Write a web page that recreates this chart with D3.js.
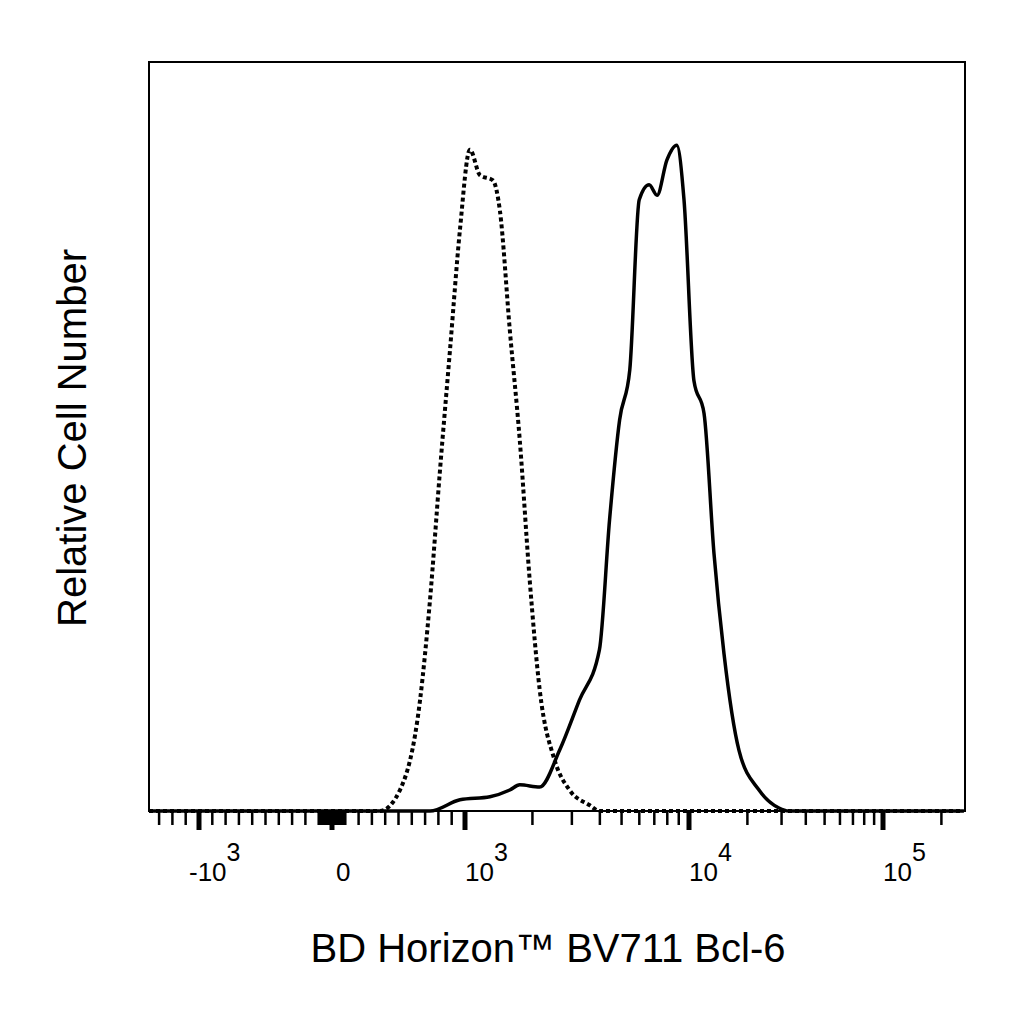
<!DOCTYPE html>
<html><head><meta charset="utf-8">
<script src="https://cdn.jsdelivr.net/npm/d3@7"></script>
<style>body{margin:0;background:#fff}text{font-family:Arial,"Liberation Sans",sans-serif}</style>
</head><body><svg id="c" width="1024" height="1024"></svg>
<script>
'use strict';
// isotype control (dotted)
var isoX = [-1376, 361, 511, 662, 737, 812, 887, 962, 1052, 1166, 1332, 1431, 1585, 1756, 1945, 2155, 2512, 2929, 3592, 3981, 260000];
var isoY = [0, 0, 2.8, 14.8, 28.2, 45.5, 61.5, 77.6, 88.3, 84.9, 84.2, 80.2, 64.2, 49.5, 30.8, 16.2, 6.8, 2.8, 0.8, 0, 0];
// Bcl-6 stained (solid)
var stainX = [-1376, 737, 962, 1292, 1585, 1756, 2155, 2643, 3242, 3981, 4420, 4900, 5440, 5995, 6640, 7200, 7965, 8820, 9500, 10610, 11950, 13450, 15150, 18100, 22960, 29100, 32700, 260000];
var stainY = [0, 0, 1.5, 1.9, 2.8, 3.5, 3.2, 8.1, 14.8, 21.5, 38.9, 52.2, 58.9, 81.6, 83.6, 82.2, 86.9, 88.9, 81.6, 57.4, 53.1, 34.4, 21, 8.1, 2.8, 0.4, 0, 0];
var majorTicks = [-1000, 0, 1000, 10000, 100000];
var tickLabels = [["-10", "3"], ["0", ""], ["10", "3"], ["10", "4"], ["10", "5"]];

var L = 149, R = 965, T = 62, B = 811;
var lin = d3.scaleLinear().domain([-1000, 1000]).range([199, 465]);
var log1 = d3.scaleLog().domain([1e3, 1e4]).range([465, 689]);
var log2 = d3.scaleLog().domain([1e4, 1e5]).range([689, 883]);
function x(v) { return v <= 1000 ? lin(v) : (v <= 1e4 ? log1(v) : log2(v)); }
var y = d3.scaleLinear().domain([0, 100]).range([B, T]);

var svg = d3.select("#c");
svg.append("rect").attr("x", L).attr("y", T).attr("width", R - L).attr("height", B - T)
  .attr("fill", "none").attr("stroke", "#000").attr("stroke-width", 2);

// minor ticks
var minor = [];
for (var i = 1; i <= 13; i++) { minor.push(-i * 100); }
for (var i = 1; i <= 9; i++) { minor.push(i * 100); minor.push(i * 10); minor.push(-i * 10); }
[1e3, 1e4, 1e5].forEach(function (d) { for (var k = 2; k <= 9; k++) if (d * k < 2.6e5) minor.push(d * k); });
var g = svg.append("g");
g.selectAll(".mn").data(minor).enter().append("line")
  .attr("x1", x).attr("x2", x).attr("y1", B).attr("y2", B + 14)
  .attr("stroke", "#000").attr("stroke-width", 2.5);
g.selectAll(".mj").data(majorTicks).enter().append("line")
  .attr("x1", x).attr("x2", x).attr("y1", B).attr("y2", B + 19)
  .attr("stroke", "#000").attr("stroke-width", 5);
var lab = g.selectAll(".lb").data(majorTicks).enter().append("text")
  .attr("x", function (d) { return x(d) + (d === 0 ? 4 : (d < 0 ? -10 : 0)); }).attr("y", 881)
  .attr("font-size", 26);
lab.append("tspan").text(function (d, i) { return tickLabels[i][0]; });
lab.append("tspan").attr("dy", -20).attr("font-size", 25).text(function (d, i) { return tickLabels[i][1]; });

var line = d3.line().x(function (d) { return x(d[0]); }).y(function (d) { return y(d[1]); }).curve(d3.curveMonotoneX);
svg.append("path").datum(d3.zip(isoX, isoY)).attr("d", line).attr("fill", "none")
  .attr("stroke", "#000").attr("stroke-width", 4).attr("stroke-dasharray", "4,3");
svg.append("path").datum(d3.zip(stainX, stainY)).attr("d", line).attr("fill", "none")
  .attr("stroke", "#000").attr("stroke-width", 3.5);

svg.append("text").attr("x", 548).attr("y", 962).attr("text-anchor", "middle").attr("font-size", 40)
  .text("BD Horizon™ BV711 Bcl-6");
svg.append("text").attr("transform", "translate(86,438) rotate(-90)").attr("text-anchor", "middle").attr("font-size", 40)
  .text("Relative Cell Number");
</script></body></html>
